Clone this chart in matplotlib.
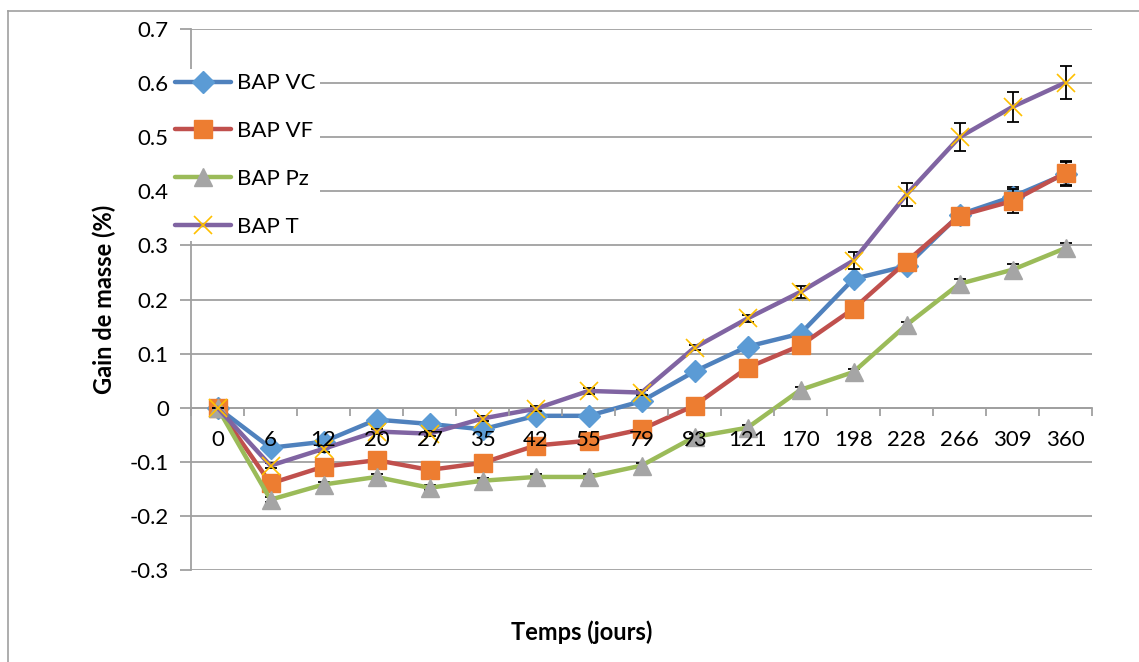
import matplotlib
matplotlib.use("Agg")
import matplotlib.pyplot as plt
from matplotlib.lines import Line2D

# jours de mesure
days = ["0", "6", "12", "20", "27", "35", "42", "55", "79", "93",
        "121", "170", "198", "228", "266", "309", "360"]

bap_vc = [0, -0.074, -0.063, -0.022, -0.030, -0.040, -0.015, -0.015, 0.012,
          0.067, 0.113, 0.137, 0.238, 0.262, 0.357, 0.390, 0.432]
bap_vf = [0, -0.140, -0.109, -0.097, -0.115, -0.102, -0.070, -0.061, -0.040,
          0.004, 0.074, 0.115, 0.183, 0.270, 0.355, 0.382, 0.434]
bap_pz = [0, -0.170, -0.142, -0.128, -0.148, -0.135, -0.128, -0.128, -0.107,
          -0.054, -0.037, 0.033, 0.066, 0.153, 0.229, 0.255, 0.295]
bap_t = [0, -0.107, -0.076, -0.044, -0.048, -0.020, -0.002, 0.031, 0.028,
         0.111, 0.165, 0.214, 0.272, 0.394, 0.500, 0.556, 0.601]

# ecarts types (barres d'erreur)
err_vc = [0, 0.004, 0.004, 0.004, 0.004, 0.004, 0.004, 0.004, 0.004,
          0.004, 0.005, 0.005, 0.006, 0.008, 0.010, 0.018, 0.022]
err_vf = [0, 0.005, 0.005, 0.005, 0.005, 0.005, 0.005, 0.005, 0.005,
          0.005, 0.005, 0.005, 0.006, 0.008, 0.012, 0.022, 0.022]
err_pz = [0, 0.005, 0.005, 0.005, 0.005, 0.005, 0.005, 0.005, 0.005,
          0.005, 0.005, 0.005, 0.006, 0.006, 0.008, 0.010, 0.010]
err_t = [0, 0.005, 0.005, 0.005, 0.005, 0.005, 0.005, 0.005, 0.005,
         0.005, 0.006, 0.011, 0.016, 0.021, 0.026, 0.028, 0.030]

plt.rcParams["font.family"] = ["Lato", "DejaVu Sans"]

fig = plt.figure(figsize=(11.39, 6.62), dpi=100)
W, H = 1139, 662
ax = fig.add_axes([191 / W, 1 - 570 / H, (1092 - 191) / W, (570 - 29) / H])

x = list(range(len(days)))

series = [
    ("BAP VC", bap_vc, err_vc, "#4F81BD", "#5B9BD5", "D", 11),
    ("BAP VF", bap_vf, err_vf, "#C0504D", "#ED7D31", "s", 12.5),
    ("BAP Pz", bap_pz, err_pz, "#9BBB59", "#A5A5A5", "^", 13),
    ("BAP T", bap_t, err_t, "#8064A2", "#FFC000", "x", 13),
]

handles = []
for i, (name, vals, errs, lc, mc, mk, ms) in enumerate(series):
    ax.errorbar(x, vals, yerr=errs, fmt="none", ecolor="black", elinewidth=1.3,
                capsize=4, capthick=1.3, zorder=3 + i)
    ax.plot(x, vals, color=lc, lw=3.2, zorder=3 + i, solid_capstyle="round")
    if mk == "x":
        ax.plot(x, vals, ls="none", marker=mk, ms=ms, mec=mc, mew=1.2, zorder=3 + i)
        h = Line2D([], [], color=lc, lw=3.2, marker=mk, ms=ms, mec=mc, mew=1.2,
                   solid_capstyle="round")
    else:
        ax.plot(x, vals, ls="none", marker=mk, ms=ms, mfc=mc, mec=mc, zorder=3 + i)
        h = Line2D([], [], color=lc, lw=3.2, marker=mk, ms=ms, mfc=mc, mec=mc,
                   solid_capstyle="round")
    handles.append(h)

ax.set_xlim(-0.5, len(days) - 0.5)
ax.set_ylim(-0.3, 0.7)
ax.set_yticks([-0.3, -0.2, -0.1, 0, 0.1, 0.2, 0.3, 0.4, 0.5, 0.6, 0.7])
ax.set_yticklabels(["-0.3", "-0.2", "-0.1", "0", "0.1", "0.2", "0.3", "0.4",
                    "0.5", "0.6", "0.7"])
ax.yaxis.grid(True, color="#A0A0A0", lw=1.3)
ax.set_axisbelow(True)

ax.set_xticks(x)
ax.set_xticklabels(days)
ax.set_xticks([i + 0.5 for i in x[:-1]] + [-0.5, len(days) - 0.5], minor=True)
ax.tick_params(axis="x", which="major", length=0, pad=16, labelsize=16)
ax.tick_params(axis="x", which="minor", length=6, width=1.3, color="#A0A0A0",
               direction="out")
ax.tick_params(axis="y", length=8, width=1.3, color="#A0A0A0", pad=8, labelsize=16)
# etiquettes de l'axe des x au-dessus des courbes
ax.xaxis.set_zorder(20)

for s in ["top", "right"]:
    ax.spines[s].set_visible(False)
ax.spines["bottom"].set_position(("data", 0))
ax.spines["bottom"].set_color("#A0A0A0")
ax.spines["bottom"].set_linewidth(1.3)
ax.spines["left"].set_color("#A0A0A0")
ax.spines["left"].set_linewidth(1.3)

ax.set_ylabel("Gain de masse (%)", fontsize=17, fontweight="bold", labelpad=10)
fig.text(582 / W, 1 - 632 / H, "Temps (jours)", fontsize=17, fontweight="bold",
         ha="center", va="center")

leg = ax.legend(handles, [s[0] for s in series], loc="upper left",
                bbox_to_anchor=(171 / W, 1 - 69 / H), bbox_transform=fig.transFigure,
                frameon=True, facecolor="white", edgecolor="none", framealpha=1,
                fontsize=16, handlelength=2.5, labelspacing=1.25, handletextpad=0.25,
                borderpad=0.2, borderaxespad=0)
leg.set_zorder(10)

# cadre du graphique (haut et gauche)
fig.add_artist(Line2D([8 / W, 8 / W], [0, 1 - 11 / H], transform=fig.transFigure,
                      color="#A0A0A0", lw=1.2))
fig.add_artist(Line2D([8 / W, 1], [1 - 11 / H, 1 - 11 / H], transform=fig.transFigure,
                      color="#A0A0A0", lw=1.2))

fig.savefig("out.png", dpi=100)
